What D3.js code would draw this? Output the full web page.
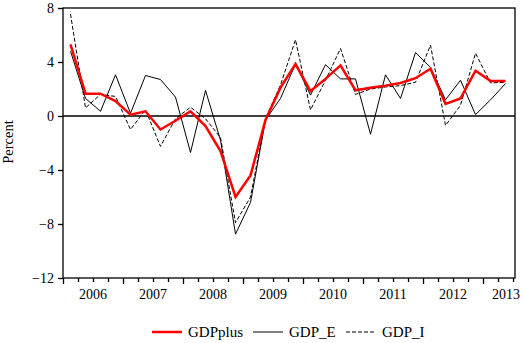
<!DOCTYPE html>
<html>
<head>
<meta charset="utf-8">
<script src="https://cdnjs.cloudflare.com/ajax/libs/d3/7.8.5/d3.min.js"></script>
<style>
  body { margin: 0; background: #fff; }
  svg text { font-family: "Liberation Serif", "Times New Roman", serif; fill: #000; }
  .line { fill: none; }
</style>
</head>
<body>
<div id="chart"></div>
<script>
// quarterly values, 2006Q1 .. 2013Q2 (percent, annualised)
var startYear = 2006;
var years = [2006, 2007, 2008, 2009, 2010, 2011, 2012, 2013];
var yTicks = [-12, -8, -4, 0, 4, 8];

var gdpPlus = [5.3, 1.65, 1.65, 1.1, 0.1, 0.35, -1.0, -0.35,
  0.35, -0.75, -2.6, -6.0, -4.4, -0.3, 2.1, 3.85,
  1.85, 2.75, 3.75, 1.9, 2.1, 2.25, 2.45, 2.8,
  3.5, 0.9, 1.3, 3.35, 2.6, 2.6];
var gdpE = [4.8, 1.3, 0.35, 3.05, 0.2, 3.0, 2.7, 1.4,
  -2.7, 1.9, -1.8, -8.75, -6.4, -0.3, 1.3, 3.85,
  1.55, 3.8, 2.75, 2.75, -1.35, 3.05, 1.3, 4.7,
  3.6, 1.2, 2.65, 0.1, 1.2, 2.4];
var gdpI = [7.55, 0.6, 1.6, 1.45, -1.0, 0.45, -2.25, -0.2,
  0.65, -0.2, -1.6, -7.9, -6.0, -0.2, 2.3, 5.65,
  0.45, 2.65, 5.0, 1.6, 2.0, 2.15, 2.25, 2.5,
  5.25, -0.7, 0.8, 4.65, 2.45, 2.5];

var series = [
  {name: "GDPplus", values: gdpPlus, color: "#ff0000", width: 2.5, dash: null},
  {name: "GDP_E", values: gdpE, color: "#000", width: 1, dash: null},
  {name: "GDP_I", values: gdpI, color: "#000", width: 1, dash: "4,2"}
];

var W = 525, H = 343;
var plotLeft = 63, plotRight = 515, plotTop = 8, plotBottom = 278;

var svg = d3.select("#chart").append("svg")
  .attr("width", W)
  .attr("height", H);

var x = d3.scaleLinear()
  .domain([startYear, 2013.533])
  .range([plotLeft, plotRight]);

var y = d3.scaleLinear()
  .domain([-12, 8])
  .range([plotBottom, plotTop]);

// frame
svg.append("rect")
  .attr("x", plotLeft).attr("y", plotTop)
  .attr("width", plotRight - plotLeft).attr("height", plotBottom - plotTop)
  .attr("fill", "none").attr("stroke", "#000").attr("stroke-width", 1.3);

// zero line
svg.append("line")
  .attr("x1", plotLeft).attr("x2", plotRight)
  .attr("y1", y(0)).attr("y2", y(0))
  .attr("stroke", "#000").attr("stroke-width", 1.3);

// y axis
var yAxis = svg.append("g")
  .attr("transform", "translate(" + plotLeft + ",0)")
  .call(d3.axisLeft(y).tickValues(yTicks).tickSize(5).tickPadding(4));
yAxis.select(".domain").remove();
yAxis.selectAll("text")
  .style("font-size", "14px")
  .style("font-family", "'Liberation Serif', 'Times New Roman', serif");

// x axis: quarter ticks and year ticks
var quarters = d3.range(startYear, 2013.6, 0.25).filter(function(d) { return d % 1 !== 0; });
var xq = svg.append("g")
  .attr("transform", "translate(0," + plotBottom + ")")
  .call(d3.axisBottom(x).tickValues(quarters).tickSize(4).tickFormat(""));
xq.select(".domain").remove();
var xy = svg.append("g")
  .attr("transform", "translate(0," + plotBottom + ")")
  .call(d3.axisBottom(x).tickValues(years).tickSize(6).tickFormat(""));
xy.select(".domain").remove();
svg.selectAll(".tick line").attr("stroke-width", 1.3);

svg.selectAll(".year-label")
  .data(years)
  .enter().append("text")
  .attr("class", "year-label")
  .attr("x", function(d) { return Math.min(x(d + 0.5), W - 19); })
  .attr("y", 299)
  .attr("text-anchor", "middle")
  .style("font-size", "14px")
  .text(function(d) { return d; });

// y label
svg.append("text")
  .attr("transform", "translate(13,142) rotate(-90)")
  .attr("text-anchor", "middle")
  .style("font-size", "14.5px")
  .text("Percent");

var line = d3.line()
  .x(function(d, i) { return x(startYear + i / 4 + 0.125); })
  .y(function(d) { return y(d); });

// draw solid, dashed, then red on top
[series[1], series[2], series[0]].forEach(function(s) {
  svg.append("path")
    .datum(s.values)
    .attr("class", "line")
    .attr("d", line)
    .attr("stroke", s.color)
    .attr("stroke-width", s.width)
    .attr("stroke-dasharray", s.dash);
});

// legend
var legendX = [152, 253, 346];
var legend = svg.selectAll(".legend")
  .data(series)
  .enter().append("g")
  .attr("class", "legend")
  .attr("transform", function(d, i) { return "translate(" + legendX[i] + ",332)"; });
legend.append("line")
  .attr("x1", 0).attr("x2", 30)
  .attr("stroke", function(d) { return d.color; })
  .attr("stroke-width", function(d) { return d.width === 1 ? 1 : 2.5; })
  .attr("stroke-dasharray", function(d) { return d.dash; });
legend.append("text")
  .attr("x", 36)
  .attr("y", 5)
  .style("font-size", "15px")
  .text(function(d) { return d.name; });
</script>
</body>
</html>
